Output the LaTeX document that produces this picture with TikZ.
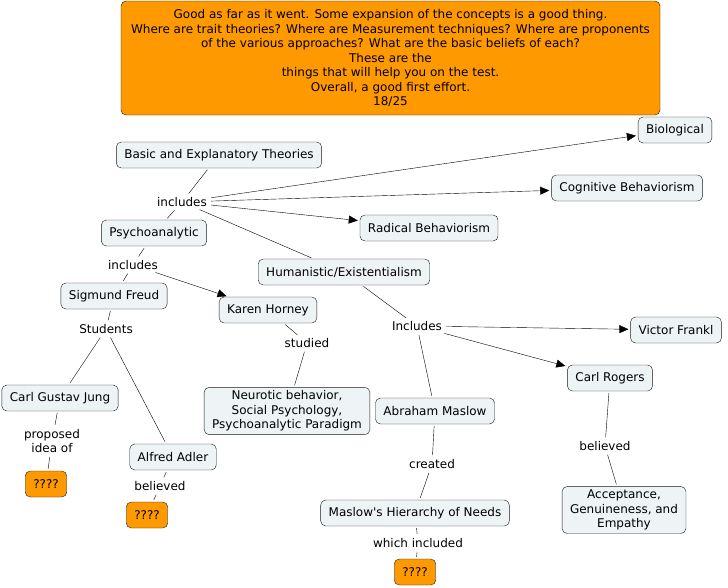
\documentclass[tikz,border=0pt]{standalone}
\usepackage{fontspec}
\setmainfont{DejaVu Sans}
\usepackage{tikz}
\usetikzlibrary{arrows.meta}
\definecolor{conceptfill}{HTML}{EEF3F5}
\definecolor{notefill}{HTML}{FF9900}

\begin{document}
\begin{tikzpicture}[x=1pt,y=-1pt,>={Triangle[length=9pt,width=8pt]},
  shorten >=2pt,shorten <=2pt,
  thin,concept/.style={draw=black!90,rounded corners=5pt,fill=conceptfill,
    minimum height=26pt,inner xsep=8pt,align=center,
    font=\fontsize{12}{14.5}\selectfont},
  note/.style={concept,fill=notefill},
  link/.style={inner sep=2pt,align=center,font=\fontsize{12}{14.5}\selectfont}]

  \useasboundingbox (0,0) rectangle (728,587);

  \node[note,minimum width=539pt,minimum height=114pt] (cmt) at (390.5,58)
    {Good as far as it went. Some expansion of the concepts is a good thing.\\
     Where are trait theories? Where are Measurement techniques? Where are proponents\\
     of the various approaches? What are the basic beliefs of each?\\
     These are the\\
     things that will help you on the test.\\
     Overall, a good first effort.\\
     18/25};

  \node[concept] (bet) at (219,155) {Basic and Explanatory Theories};
  \node[concept] (bio) at (675,130) {Biological};
  \node[concept] (cog) at (627,188) {Cognitive Behaviorism};
  \node[concept] (rad) at (429,228) {Radical Behaviorism};
  \node[concept] (psy) at (154,233) {Psychoanalytic};
  \node[concept] (hum) at (344,272) {Humanistic/Existentialism};
  \node[concept] (fre) at (114,296) {Sigmund Freud};
  \node[concept] (hor) at (268,310) {Karen Horney};
  \node[concept] (fra) at (676,330) {Victor Frankl};
  \node[concept] (rog) at (610,378) {Carl Rogers};
  \node[concept] (jun) at (60,398) {Carl Gustav Jung};
  \node[concept] (neu) at (287,411) {Neurotic behavior,\\ Social Psychology,\\ Psychoanalytic Paradigm};
  \node[concept] (mas) at (435,411) {Abraham Maslow};
  \node[concept] (adl) at (173,457) {Alfred Adler};
  \node[concept] (acc) at (624,510) {Acceptance,\\ Genuineness, and\\ Empathy};
  \node[concept] (hie) at (415,513) {Maslow\textquotesingle s Hierarchy of Needs};
  \node[note] (q1) at (46,484) {????};
  \node[note] (q2) at (147,515) {????};
  \node[note] (q3) at (415,572) {????};

  \node[link] (inc1) at (182,202) {includes};
  \node[link] (inc2) at (133,265) {includes};
  \node[link] (stu) at (106,329) {Students};
  \node[link] (std) at (307,343) {studied};
  \node[link] (inc3) at (417,326) {Includes};
  \node[link] (pro) at (52,441) {proposed\\ idea of};
  \node[link] (bel1) at (160,486) {believed};
  \node[link] (cre) at (432,464) {created};
  \node[link] (bel2) at (605,446) {believed};
  \node[link] (whi) at (418,543) {which included};

  \path[draw]
    (bet) edge (inc1)
    (inc1) edge[->] (bio)
           edge[->] (cog)
           edge[->] (rad)
           edge (psy)
           edge (hum)
    (psy) edge (inc2)
    (inc2) edge (fre)
           edge[->] (hor)
    (fre) edge (stu)
    (stu) edge (jun)
          edge (adl)
    (hor) edge (std)
    (std) edge (neu)
    (hum) edge (inc3)
    (inc3) edge[->] (fra)
           edge[->] (rog)
           edge (mas)
    (jun) edge (pro)
    (pro) edge (q1)
    (adl) edge (bel1)
    (bel1) edge (q2)
    (mas) edge (cre)
    (cre) edge (hie)
    (hie) edge (whi)
    (whi) edge (q3)
    (rog) edge (bel2)
    (bel2) edge (acc);

\end{tikzpicture}
\end{document}
